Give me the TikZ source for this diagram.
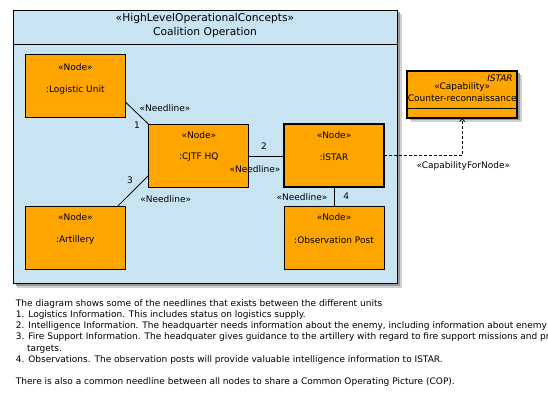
\documentclass[tikz,border=0pt]{standalone}
\usepackage{fontspec}
\setmainfont{DejaVu Sans}
\usetikzlibrary{arrows.meta,calc}
\definecolor{pkgblue}{RGB}{200,227,242}
\definecolor{nodeor}{RGB}{255,165,0}
\begin{document}
\begin{tikzpicture}[x=1pt,y=-1pt,
  every node/.style={inner sep=0pt, outer sep=0pt, font=\fontsize{9}{11}\selectfont},
  nodebox/.style={draw=black, line width=0.8pt, fill=nodeor, minimum width=100pt, minimum height=63pt},
  lbl/.style={font=\fontsize{9}{11}\selectfont},
  bodyline/.style={anchor=base west, font=\fontsize{9}{11}\selectfont},
  shadowouter/.style={fill=black!18},
  shadowinner/.style={fill=black!40}]
\useasboundingbox (0,0) rectangle (548,406);
\fill[white] (0,0) rectangle (548,406);
% package
\fill[shadowouter] (17,14) rectangle (401.5,287.5);
\fill[shadowinner] (15.5,12.5) rectangle (399.5,285.5);
\draw[fill=pkgblue, line width=0.8pt] (13,10) rectangle (397,283);
\draw[line width=0.8pt] (13,44) -- (397,44);
\node (pkgst) at (205,19) {\fontsize{10.7}{12}\selectfont «HighLevelOperationalConcepts»};
\node (pkgnm) at (205,33) {\fontsize{10.7}{12}\selectfont Coalition Operation};
% nodes
\node[nodebox] (lu) at (75.3,85.7) {};
\node[nodebox] (cj) at (198.8,156) {};
\node[nodebox] (art) at (75.3,237.8) {};
\node[nodebox, line width=2.4pt] (ist) at (334,155.5) {};
\node[nodebox] (obs) at (334,237.8) {};
\node at ([yshift=-13pt]lu.north) {«Node»};
\node at ([yshift=-36pt]lu.north) {:Logistic Unit};
\node at ([yshift=-11pt]cj.north) {«Node»};
\node at ([yshift=-33pt]cj.north) {:CJTF HQ};
\node at ([yshift=-10.5pt]art.north) {«Node»};
\node at ([yshift=-33.5pt]art.north) {:Artillery};
\node at ([yshift=-11pt]ist.north) {«Node»};
\node at ([yshift=-33pt]ist.north) {:ISTAR};
\node at ([yshift=-10.5pt]obs.north) {«Node»};
\node at ([yshift=-33.5pt]obs.north) {:Observation Post};
% capability
\fill[shadowouter] (411,75) rectangle (521.5,122);
\fill[shadowinner] (409.5,73.5) rectangle (520,120.5);
\node[draw=black, line width=2pt, fill=nodeor, minimum width=110.3pt, minimum height=47.3pt] (cap) at (462.2,94.4) {};
\draw[line width=1pt] (cap.west |- 0,109) -- (cap.east |- 0,109);
\node[anchor=east, font=\fontsize{9}{11}\selectfont\itshape] at (512.7,78.5) {ISTAR};
\node at (462.2,87) {«Capability»};
\node at (462.2,98) {Counter-reconnaissance};
% connectors
\draw[line width=0.8pt] ($(lu.south east)+(0,-15.3)$) -- (cj.north west);
\draw[line width=0.8pt] ($(art.north east)+(-7.7,0)$) -- ($(cj.south west)+(0,-12.3)$);
\draw[line width=0.8pt] (cj.east) -- (cj.east -| ist.west);
\draw[line width=0.8pt] (ist.south) -- (obs.north);
\draw[line width=0.8pt, dash pattern=on 3pt off 2pt, -{Straight Barb[length=3pt,width=5pt]}] (ist.east) -| (cap.south);
% labels
\node[lbl] (l1) at (165,107.7) {«Needline»};
\node[lbl] (n1) at (137,125.7) {1};
\node[lbl] (n2) at (264,146) {2};
\node[lbl] (l2) at (255,168.7) {«Needline»};
\node[lbl] (n3) at (130,180.7) {3};
\node[lbl] (l3) at (165.7,199) {«Needline»};
\node[lbl] (l4) at (302,196.7) {«Needline»};
\node[lbl] (n4) at (346.3,196.7) {4};
\node[lbl] (l5) at (463.3,165.7) {«CapabilityForNode»};
% body text
\begin{scope}
\clip (0,0) rectangle (548,406);
\node[bodyline] (t0) at (16,306) {The diagram shows some of the needlines that exists between the different units};
\node[bodyline] (t1) at (16,317.3) {1. Logistics Information. This includes status on logistics supply.};
\node[bodyline] (t2) at (16,328.6) {2. Intelligence Information. The headquarter needs information about the enemy, including information about enemy};
\node[bodyline] (t3) at (16,339.9) {3. Fire Support Information. The headquater gives guidance to the artillery with regard to fire support missions and pr};
\node[bodyline] (t3b) at (27,351.2) {targets.};
\node[bodyline] (t4) at (16,362.5) {4. Observations. The observation posts will provide valuable intelligence information to ISTAR.};
\node[bodyline] (t5) at (16,384) {There is also a common needline between all nodes to share a Common Operating Picture (COP).};
\end{scope}
\end{tikzpicture}
\end{document}
